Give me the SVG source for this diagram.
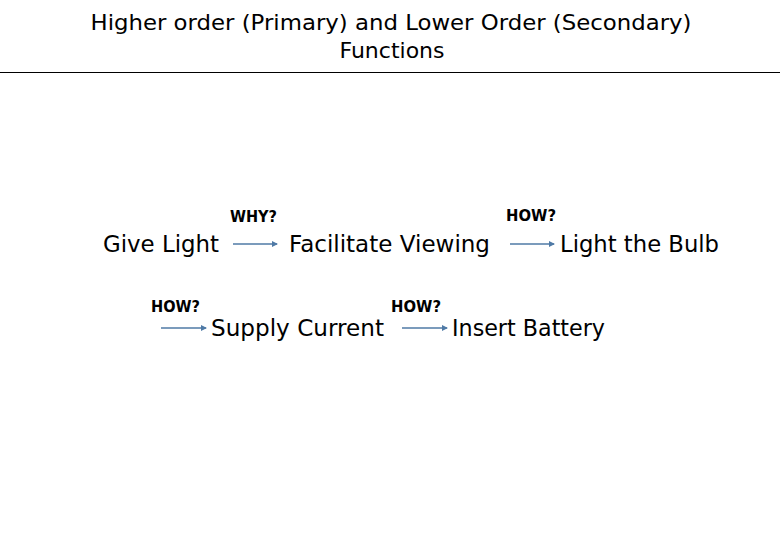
<svg xmlns="http://www.w3.org/2000/svg" width="780" height="540" viewBox="0 0 780 540">
<style>
.t{font-family:"DejaVu Sans","Liberation Sans",sans-serif;fill:#000}
.title{font-size:22px}
.node{font-size:23px}
.lbl{font-size:15px;font-weight:bold}
.c{stroke:#4f7aa6;stroke-width:1.5;fill:none;marker-end:url(#ah)}
</style>
<defs>
<marker id="ah" viewBox="0 0 6 6" refX="5" refY="3" markerWidth="4" markerHeight="4" orient="auto" markerUnits="strokeWidth">
<path d="M0,0 L6,3 L0,6 z" fill="#4f7aa6"/>
</marker>
</defs>
<rect width="780" height="540" fill="#fff"/>
<g id="title">
<text class="t title" x="391" y="30" text-anchor="middle" textLength="601" lengthAdjust="spacingAndGlyphs">Higher order (Primary) and Lower Order (Secondary)</text>
<text class="t title" x="392" y="58" text-anchor="middle">Functions</text>
<line x1="0" y1="72.5" x2="780" y2="72.5" stroke="#000" stroke-width="1"/>
</g>
<g id="n-give-light"><text class="t node" x="103" y="252" textLength="116" lengthAdjust="spacingAndGlyphs">Give Light</text></g>
<g id="n-facilitate-viewing"><text class="t node" x="289" y="252" textLength="201" lengthAdjust="spacingAndGlyphs">Facilitate Viewing</text></g>
<g id="n-light-bulb"><text class="t node" x="560" y="252" textLength="159" lengthAdjust="spacingAndGlyphs">Light the Bulb</text></g>
<g id="n-supply-current"><text class="t node" x="211" y="336" textLength="173" lengthAdjust="spacingAndGlyphs">Supply Current</text></g>
<g id="n-insert-battery"><text class="t node" x="452" y="336" textLength="153" lengthAdjust="spacingAndGlyphs">Insert Battery</text></g>
<g id="connectors">
<line class="c" x1="233" y1="244" x2="277" y2="244"/>
<line class="c" x1="510" y1="244" x2="554" y2="244"/>
<line class="c" x1="161" y1="328" x2="206" y2="328"/>
<line class="c" x1="402" y1="328" x2="447" y2="328"/>
</g>
<g id="labels">
<text class="t lbl" x="230" y="222" textLength="47" lengthAdjust="spacingAndGlyphs">WHY?</text>
<text class="t lbl" x="506" y="221" textLength="50" lengthAdjust="spacingAndGlyphs">HOW?</text>
<text class="t lbl" x="151" y="312" textLength="49" lengthAdjust="spacingAndGlyphs">HOW?</text>
<text class="t lbl" x="391" y="312" textLength="50" lengthAdjust="spacingAndGlyphs">HOW?</text>
</g>
</svg>
